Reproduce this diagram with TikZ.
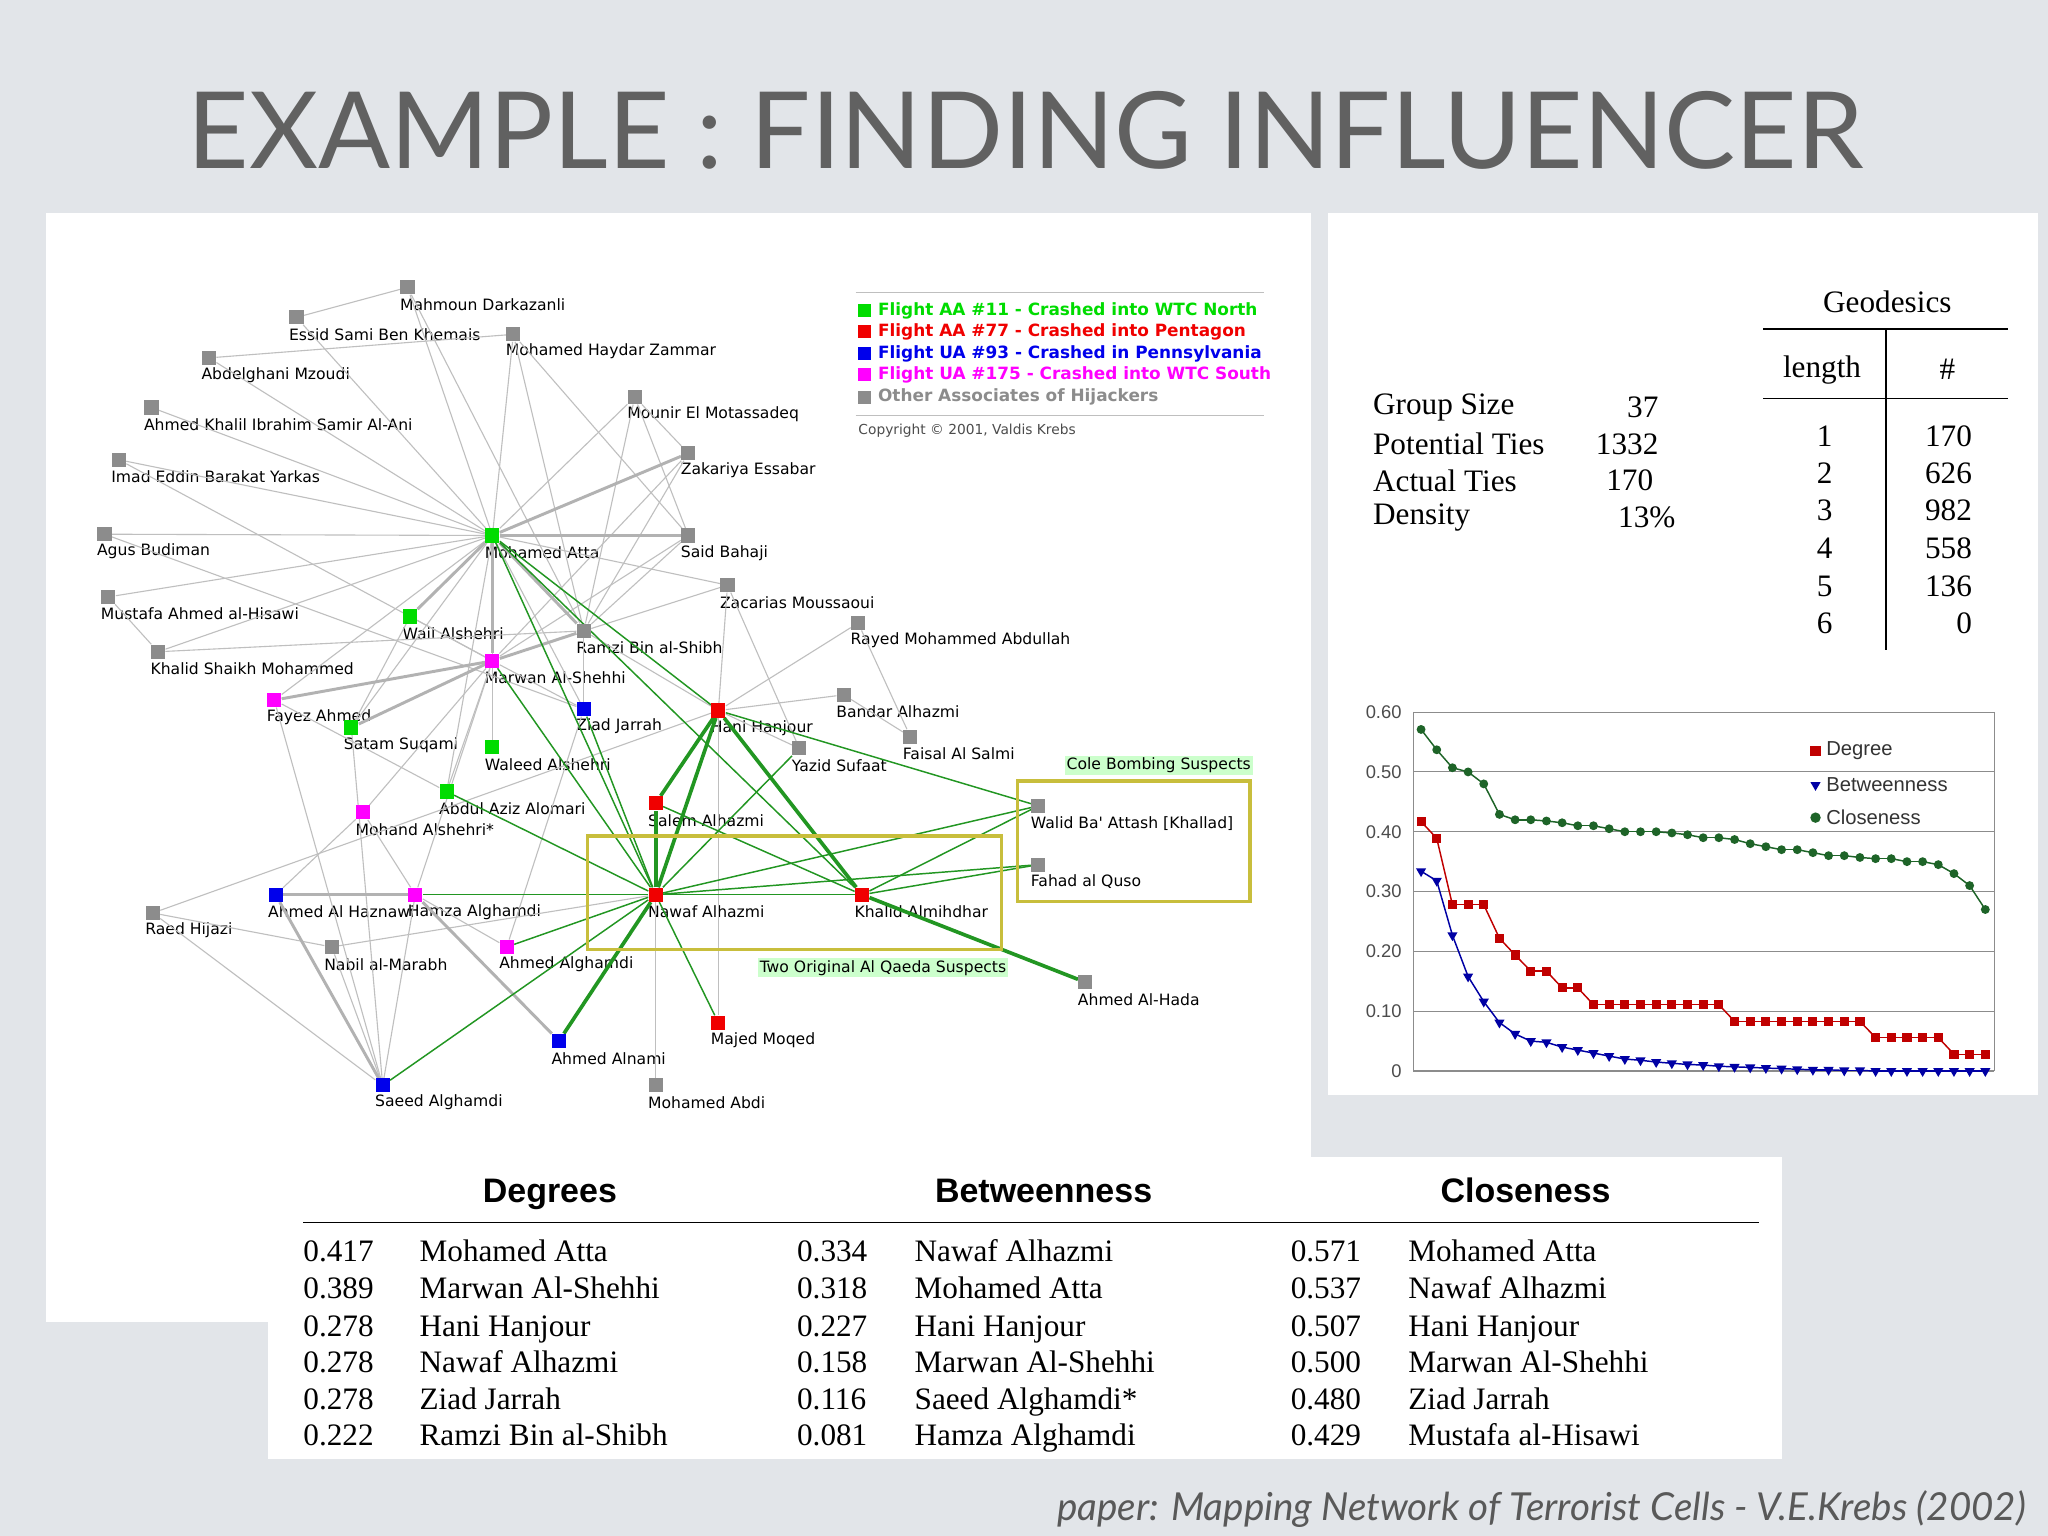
\documentclass[tikz,border=0pt]{standalone}
\usepackage{fontspec}
\setmainfont{Liberation Serif}
\newfontfamily\tfont{Lato}
\newfontfamily\lfont{DejaVu Sans}
\newfontfamily\hfont{Liberation Sans}
\usetikzlibrary{shapes.geometric}
\definecolor{bg}{RGB}{226,229,233}
\definecolor{fg}{RGB}{0,220,0}
\definecolor{fr}{RGB}{240,0,0}
\definecolor{fb}{RGB}{0,0,235}
\definecolor{fm}{RGB}{255,0,255}
\definecolor{fo}{RGB}{140,140,140}
\definecolor{eg}{RGB}{34,150,34}
\definecolor{box}{RGB}{200,190,60}
\definecolor{dg}{RGB}{30,100,40}
\tikzset{
 sq/.style={draw=none,fill=#1,minimum size=0.27cm,inner sep=0pt},
 lbl/.style={font=\lfont\fontsize{8.5}{9}\selectfont,anchor=west,inner sep=0pt},
 ge/.style={draw=black!25,line width=0.6pt},
 gt/.style={draw=black!30,line width=1.6pt},
 gr/.style={draw=eg,line width=0.8pt},
 grt/.style={draw=eg,line width=2pt},
 tb/.style={font=\fontsize{17}{18}\selectfont,anchor=base west,inner sep=0pt},
 tri/.style={fill=fb!70!black,isosceles triangle,shape border rotate=-90,minimum size=0.17cm,inner sep=0pt,isosceles triangle apex angle=60},
}
\newcommand{\Nd}[5]{\node[sq=#4] (#1) at (#2,#3) {}; \node[lbl] at ([xshift=-0.15cm,yshift=-0.33cm]#1.center) {#5};}
\begin{document}
\begin{tikzpicture}[x=0.025cm,y=-0.025cm]
\fill[bg] (0,0) rectangle (1568,1176);
\useasboundingbox (0,0) rectangle (1568,1176);
\node[font=\tfont\fontsize{58}{60}\selectfont,text=black!62] (title) at (785,100) {EXAMPLE : FINDING INFLUENCER};
\fill[white] (35,163) rectangle (1004,1012);
\fill[white] (1017,163) rectangle (1560,838);
\fill[white] (205,886) rectangle (1364,1117);
% nodes
\Nd{mda}{312}{220}{fo}{Mahmoun Darkazanli}
\Nd{esb}{227}{243}{fo}{Essid Sami Ben Khemais}
\Nd{amz}{160}{274}{fo}{Abdelghani Mzoudi}
\Nd{aka}{116}{312}{fo}{Ahmed Khalil Ibrahim Samir Al-Ani}
\Nd{iey}{91}{352}{fo}{Imad Eddin Barakat Yarkas}
\Nd{agb}{80}{409}{fo}{Agus Budiman}
\Nd{mah}{83}{457}{fo}{Mustafa Ahmed al-Hisawi}
\Nd{ksm}{121}{499}{fo}{Khalid Shaikh Mohammed}
\Nd{fay}{210}{536}{fm}{Fayez Ahmed}
\Nd{sat}{269}{557}{fg}{Satam Suqami}
\Nd{moh}{278}{622}{fm}{Mohand Alshehri*}
\Nd{rai}{117}{699}{fo}{Raed Hijazi}
\Nd{ahz}{211}{685}{fb}{Ahmed Al Haznawi}
\Nd{ham}{318}{685}{fm}{Hamza Alghamdi}
\Nd{nab}{254}{725}{fo}{Nabil al-Marabh}
\Nd{aag}{388}{725}{fm}{Ahmed Alghamdi}
\Nd{sae}{293}{831}{fb}{Saeed Alghamdi}
\Nd{aln}{428}{797}{fb}{Ahmed Alnami}
\Nd{mab}{502}{831}{fo}{Mohamed Abdi}
\Nd{maj}{550}{783}{fr}{Majed Moqed}
\Nd{naw}{502}{685}{fr}{Nawaf Alhazmi}
\Nd{kal}{660}{685}{fr}{Khalid Almihdhar}
\Nd{sal}{502}{615}{fr}{Salem Alhazmi}
\Nd{han}{550}{544}{fr}{Hani Hanjour}
\Nd{zia}{447}{543}{fb}{Ziad Jarrah}
\Nd{wal}{377}{572}{fg}{Waleed Alshehri}
\Nd{aza}{342}{606}{fg}{Abdul Aziz Alomari}
\Nd{mar}{377}{506}{fm}{Marwan Al-Shehhi}
\Nd{wai}{314}{472}{fg}{Wail Alshehri}
\Nd{att}{377}{410}{fg}{Mohamed Atta}
\Nd{ram}{447}{483}{fo}{Ramzi Bin al-Shibh}
\Nd{mhz}{393}{256}{fo}{Mohamed Haydar Zammar}
\Nd{mem}{486}{304}{fo}{Mounir El Motassadeq}
\Nd{zes}{527}{347}{fo}{Zakariya Essabar}
\Nd{sba}{527}{410}{fo}{Said Bahaji}
\Nd{zmo}{557}{448}{fo}{Zacarias Moussaoui}
\Nd{rma}{657}{477}{fo}{Rayed Mohammed Abdullah}
\Nd{bal}{646}{532}{fo}{Bandar Alhazmi}
\Nd{yaz}{612}{573}{fo}{Yazid Sufaat}
\Nd{fas}{697}{564}{fo}{Faisal Al Salmi}
\Nd{wba}{795}{617}{fo}{Walid Ba' Attash [Khallad]}
\Nd{fqu}{795}{662}{fo}{Fahad al Quso}
\Nd{aha}{831}{752}{fo}{Ahmed Al-Hada}
% edges
\foreach \a/\b in {att/mda,att/esb,att/amz,att/aka,att/iey,att/agb,att/mah,att/ksm,att/mhz,att/mem,att/zes,att/wai,att/wal,att/aza,att/fay,att/sat,att/zia,att/zmo,ram/zes,ram/sba,ram/mhz,ram/zia,ram/mda,ram/mem,ram/zmo,ram/han,mar/sba,mar/zes,mar/fay,mar/sat,mar/wal,mar/zia,mar/moh,mar/wai,mar/aza,mar/ham,han/rma,han/bal,han/yaz,han/zmo,han/maj,zmo/yaz,rai/sae,rai/han,rai/nab,nab/sae,nab/naw,sae/fay,sae/sat,sae/ham,ham/aag,ham/moh,ahz/moh,naw/mab,aag/zia,esb/mda,amz/mhz,ksm/ram,ksm/mah,wai/sat,fay/aza,sba/mhz,sba/mem,zes/mem,rma/fas,bal/fas,agb/zia,iey/mar}
  \draw[ge] (\a) -- (\b);
\foreach \a/\b in {att/mar,att/ram,att/sba,att/zes,ham/ahz,ham/aln,ahz/sae,mar/fay,att/wai,sat/mar,ram/mar}
  \draw[gt] (\a) -- (\b);
\foreach \a/\b in {naw/att,naw/mar,naw/zia,naw/kal,naw/wba,naw/fqu,kal/wba,kal/fqu,naw/sae,naw/aag,naw/aza,kal/sal,naw/ham,att/kal,att/han,han/wba,naw/maj,naw/yaz}
  \draw[gr] (\a) -- (\b);
\foreach \a/\b in {naw/sal,naw/han,kal/han,kal/aha,naw/aln,han/sal}
  \draw[grt] (\a) -- (\b);
% redraw squares on top
\foreach \n/\c in {mda/fo,esb/fo,amz/fo,aka/fo,iey/fo,agb/fo,mah/fo,ksm/fo,fay/fm,sat/fg,moh/fm,rai/fo,ahz/fb,ham/fm,nab/fo,aag/fm,sae/fb,aln/fb,mab/fo,maj/fr,naw/fr,kal/fr,sal/fr,han/fr,zia/fb,wal/fg,aza/fg,mar/fm,wai/fg,att/fg,ram/fo,mhz/fo,mem/fo,zes/fo,sba/fo,zmo/fo,rma/fo,bal/fo,yaz/fo,fas/fo,wba/fo,fqu/fo,aha/fo}
  \fill[\c] ([xshift=-0.135cm,yshift=-0.135cm]\n.center) rectangle ([xshift=0.135cm,yshift=0.135cm]\n.center);
% boxes
\draw[box,line width=1.8pt] (450,640) rectangle (767,727);
\draw[box,line width=1.8pt] (779,598) rectangle (957,690);
\node[lbl,fill=green!20,inner sep=1pt] (cbl) at (815,586) {Cole Bombing Suspects};
\node[lbl,fill=green!20,inner sep=1pt] (tql) at (580,741) {Two Original Al Qaeda Suspects};
% legend
\draw[black!25] (655,224) -- (968,224);
\draw[black!25] (655,318) -- (968,318);
\foreach \y/\c/\t in {238/fg/Flight AA \#11 - Crashed into WTC North,254/fr/Flight AA \#77 - Crashed into Pentagon,271/fb/Flight UA \#93 - Crashed in Pennsylvania,287/fm/Flight UA \#175 - Crashed into WTC South,304/fo/Other Associates of Hijackers}
{\fill[\c] (662,\y) ++(-5,-5) rectangle ++(10,10);
 \node[lbl,text=\c,font=\lfont\bfseries\fontsize{9.2}{10}\selectfont] at (672,\y) {\t};}
\node[lbl,font=\lfont\fontsize{7.5}{8}\selectfont,text=black!70] (copy) at (657,330) {Copyright \textcopyright\ 2001, Valdis Krebs};
% stats
\foreach \y/\a in {312/Group Size,340/Potential Ties,368/Actual Ties,396/Density}
{\node[tb,anchor=west] at (1051,\y) {\a};}
\node[tb,anchor=east] at (1270,312) {37};
\node[tb,anchor=east] at (1270,340) {1332};
\node[tb,anchor=east] at (1266,368) {170};
\node[tb,anchor=east] at (1283,396) {13\%};
\node[tb,anchor=center] (geo) at (1445,231) {Geodesics};
\draw[black,line width=0.8pt] (1350,252) -- (1537,252);
\draw[black,line width=0.8pt] (1350,305) -- (1537,305);
\draw[black,line width=0.8pt] (1444,252) -- (1444,498);
\node[tb,anchor=center] at (1395,283) {length};
\node[tb,anchor=center] at (1491,283) {\#};
\foreach \y/\a/\b in {334/1/170,362/2/626,391/3/982,420/4/558,449/5/136,477/6/0}
{\node[tb,anchor=center] at (1397,\y) {\a}; \node[tb,anchor=east] at (1510,\y) {\b};}
% chart
\foreach \v/\t in {0/0,1/0.10,2/0.20,3/0.30,4/0.40,5/0.50,6/0.60}{
 \draw[black!45,line width=0.6pt] (1082,820-45.8*\v) -- (1527,820-45.8*\v);
 \node[font=\hfont\fontsize{10}{10}\selectfont,anchor=east,text=black!70] at (1078,820-45.8*\v) {\t};}
\draw[black!45,line width=0.6pt] (1082,545) -- (1082,820);
\draw[black!45,line width=0.6pt] (1527,545) -- (1527,820);
\def\clo{0.571,0.537,0.507,0.500,0.480,0.429,0.42,0.42,0.418,0.415,0.41,0.41,0.405,0.40,0.40,0.40,0.398,0.395,0.39,0.39,0.387,0.38,0.375,0.37,0.37,0.365,0.36,0.36,0.357,0.355,0.355,0.35,0.35,0.345,0.33,0.31,0.27}
\def\deg{0.417,0.389,0.278,0.278,0.278,0.222,0.194,0.167,0.167,0.139,0.139,0.111,0.111,0.111,0.111,0.111,0.111,0.111,0.111,0.111,0.083,0.083,0.083,0.083,0.083,0.083,0.083,0.083,0.083,0.056,0.056,0.056,0.056,0.056,0.028,0.028,0.028}
\def\btw{0.334,0.318,0.227,0.158,0.116,0.081,0.062,0.05,0.048,0.04,0.035,0.03,0.025,0.02,0.018,0.015,0.013,0.011,0.01,0.008,0.007,0.006,0.005,0.004,0.003,0.002,0.002,0.001,0.001,0,0,0,0,0,0,0,0}
\foreach \v [count=\i from 0] in \clo { \ifnum\i>0 \draw[dg,line width=0.8pt] (1088+12*\i-12,820-458*\pv) -- (1088+12*\i,820-458*\v);\fi \xdef\pv{\v}}
\foreach \v [count=\i from 0] in \deg { \ifnum\i>0 \draw[fr!80!black,line width=0.8pt] (1088+12*\i-12,820-458*\pv) -- (1088+12*\i,820-458*\v);\fi \xdef\pv{\v}}
\foreach \v [count=\i from 0] in \btw { \ifnum\i>0 \draw[fb!70!black,line width=0.8pt] (1088+12*\i-12,820-458*\pv) -- (1088+12*\i,820-458*\v);\fi \xdef\pv{\v}}
\foreach \v [count=\i from 0] in \clo \fill[dg] (1088+12*\i,820-458*\v) circle (0.085cm);
\foreach \v [count=\i from 0] in \deg \fill[fr!80!black] (1088+12*\i,820-458*\v) ++(-3.5,-3.5) rectangle ++(7,7);
\foreach \v [count=\i from 0] in \btw \node[tri] at (1088+12*\i,820-458*\v) {};
\fill[fr!80!black] (1390,575) ++(-4,-4) rectangle ++(8,8);
\node[tri] (lbt) at (1390,601) {};
\fill[dg] (1390,626) circle (0.1cm);
\foreach \y/\t in {575/Degree,601/Betweenness,626/Closeness}
 \node[font=\hfont\fontsize{11}{11}\selectfont,anchor=west,inner sep=0pt,text=black!80] at (1398,\y) {\t};
% bottom table
\foreach \x/\t in {421/Degrees,799/Betweenness,1168/Closeness}
 \node[font=\hfont\bfseries\fontsize{18.5}{18}\selectfont,anchor=base] at (\x,921) {\t};
\draw[black,line width=0.8pt] (232,936) -- (1347,936);
\foreach \y/\a/\b/\c/\d/\e/\f in {
966/0.417/Mohamed Atta/0.334/Nawaf Alhazmi/0.571/Mohamed Atta,
994/0.389/Marwan Al-Shehhi/0.318/Mohamed Atta/0.537/Nawaf Alhazmi,
1023/0.278/Hani Hanjour/0.227/Hani Hanjour/0.507/Hani Hanjour,
1051/0.278/Nawaf Alhazmi/0.158/Marwan Al-Shehhi/0.500/Marwan Al-Shehhi,
1079/0.278/Ziad Jarrah/0.116/Saeed Alghamdi*/0.480/Ziad Jarrah,
1107/0.222/Ramzi Bin al-Shibh/0.081/Hamza Alghamdi/0.429/Mustafa al-Hisawi}
{\node[tb] at (232,\y) {\a}; \node[tb] at (321,\y) {\b};
 \node[tb] at (610,\y) {\c}; \node[tb] at (700,\y) {\d};
 \node[tb] at (988,\y) {\e}; \node[tb] at (1078,\y) {\f};}
\node[font=\tfont\itshape\fontsize{21}{22}\selectfont,text=black!65,anchor=east] (foot) at (1556,1155) {paper: Mapping Network of Terrorist Cells - V.E.Krebs (2002)};
\end{tikzpicture}
\end{document}
